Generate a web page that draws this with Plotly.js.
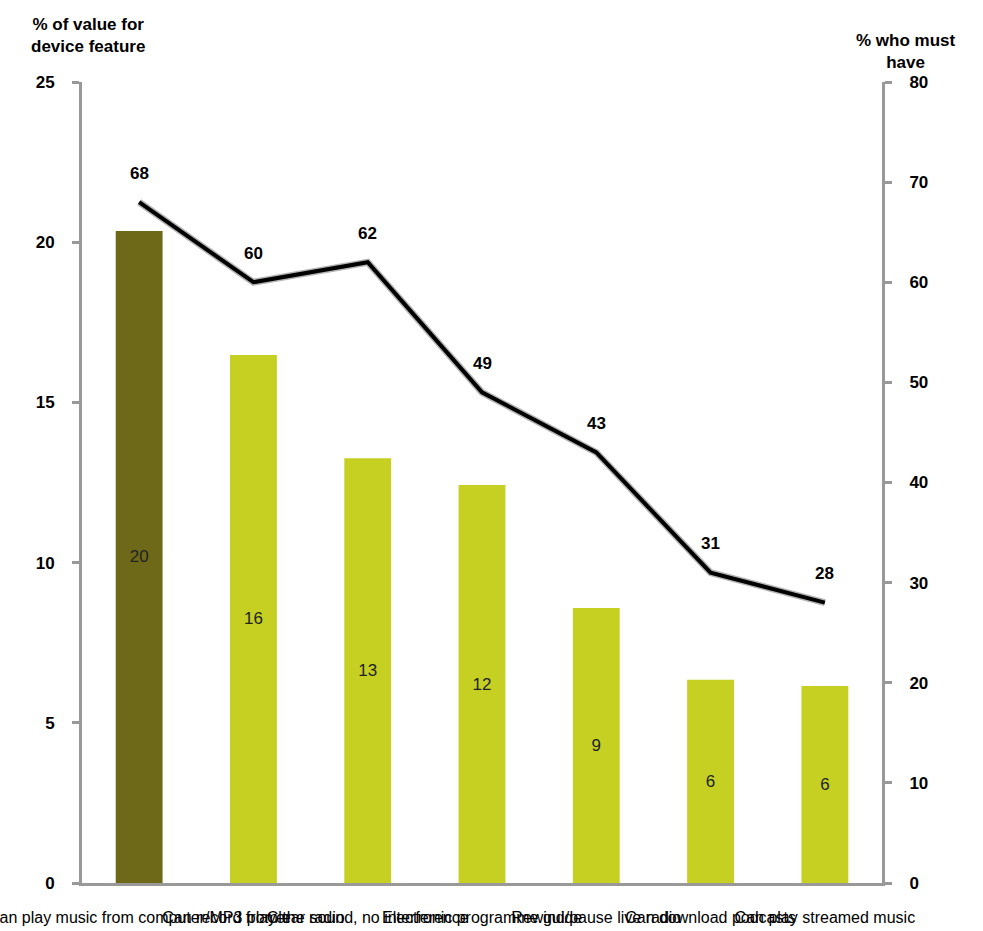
<!DOCTYPE html>
<html>
<head>
<meta charset="utf-8">
<script src="https://cdn.plot.ly/plotly-3.0.1.min.js"></script>
<style>html,body{margin:0;padding:0;background:#fff;}#chart{width:983px;height:931px;}</style>
</head>
<body>
<div id="chart"></div>
<script>
const categories = [
  "Can play music from computer/MP3 player",
  "Can record from the radio",
  "Clear sound, no interference",
  "Electronic programme guide",
  "Rewind/pause live radio",
  "Can download podcasts",
  "Can play streamed music"
];
const valuePct = [20.35, 16.48, 13.26, 12.42, 8.58, 6.34, 6.15];
const valueLabels = ["20", "16", "13", "12", "9", "6", "6"];
const mustHave = [68, 60, 62, 49, 43, 31, 28];
const leftTicks = [0, 5, 10, 15, 20, 25];
const rightTicks = [0, 10, 20, 30, 40, 50, 60, 70, 80];

const FONT = "Liberation Sans, Arial, sans-serif";
const barColors = categories.map((c, i) => i === 0 ? "#6e6919" : "#c5d022");

const bars = {
  type: "bar",
  x: categories,
  y: valuePct,
  text: valueLabels,
  textposition: "inside",
  insidetextanchor: "middle",
  textangle: 0,
  constraintext: "none",
  textfont: {family: FONT, size: 17, color: "#222"},
  marker: {color: barColors, line: {width: 0}},
  width: 0.41,
  hoverinfo: "none",
  cliponaxis: false
};
const shadow = {
  type: "scatter", mode: "lines",
  x: categories, y: mustHave, yaxis: "y2",
  line: {color: "rgba(120,120,120,0.55)", width: 7},
  hoverinfo: "none"
};
const line = {
  type: "scatter", mode: "lines",
  x: categories, y: mustHave, yaxis: "y2",
  line: {color: "#000", width: 4},
  hoverinfo: "none"
};

const annotations = categories.map((c, i) => ({
  x: c, y: mustHave[i], xref: "x", yref: "y2",
  text: String(mustHave[i]), showarrow: false,
  yshift: 29, font: {family: FONT, size: 17, color: "#000", weight: "bold"}
}));
annotations.push({
  xref: "paper", yref: "paper", x: 0.0075, y: 1.0, xanchor: "center", yanchor: "bottom",
  xshift: 0, yshift: 24,
  text: "% of value for<br>device feature", showarrow: false, align: "center",
  font: {family: FONT, size: 17, color: "#000", weight: "bold"}
});
annotations.push({
  xref: "paper", yref: "paper", x: 1.0, y: 1.0, xanchor: "center", yanchor: "bottom",
  xshift: 24, yshift: 8,
  text: "% who must<br>have", showarrow: false, align: "center",
  font: {family: FONT, size: 17, color: "#000", weight: "bold"}
});

const layout = {
  width: 983, height: 931,
  margin: {l: 82, r: 101, t: 82, b: 48},
  paper_bgcolor: "#fff", plot_bgcolor: "#fff",
  showlegend: false,
  bargap: 0.59,
  font: {family: FONT, color: "#000"},
  xaxis: {
    type: "category", range: [-0.5, 6.5],
    showline: true, linecolor: "#999", linewidth: 3,
    ticks: "", showgrid: false, zeroline: false,
    tickangle: 0, ticklabelstandoff: 18,
    tickfont: {family: FONT, size: 16, color: "#000"},
    fixedrange: true
  },
  yaxis: {
    range: [0, 25], tickvals: leftTicks, ticktext: leftTicks.map(String),
    showline: true, linecolor: "#999", linewidth: 3,
    ticks: "outside", ticklen: 7, tickwidth: 3, tickcolor: "#999",
    showgrid: false, zeroline: false, ticklabelstandoff: 14,
    tickfont: {family: FONT, size: 17, color: "#000", weight: "bold"}
  },
  yaxis2: {
    range: [0, 80], tickvals: rightTicks, ticktext: rightTicks.map(String),
    overlaying: "y", side: "right",
    showline: true, linecolor: "#999", linewidth: 3,
    ticks: "outside", ticklen: 7, tickwidth: 3, tickcolor: "#999",
    showgrid: false, zeroline: false, ticklabelstandoff: 14,
    tickfont: {family: FONT, size: 17, color: "#000", weight: "bold"}
  },
  annotations: annotations
};

Plotly.newPlot("chart", [bars, shadow, line], layout, {displayModeBar: false, staticPlot: true});
</script>
</body>
</html>
